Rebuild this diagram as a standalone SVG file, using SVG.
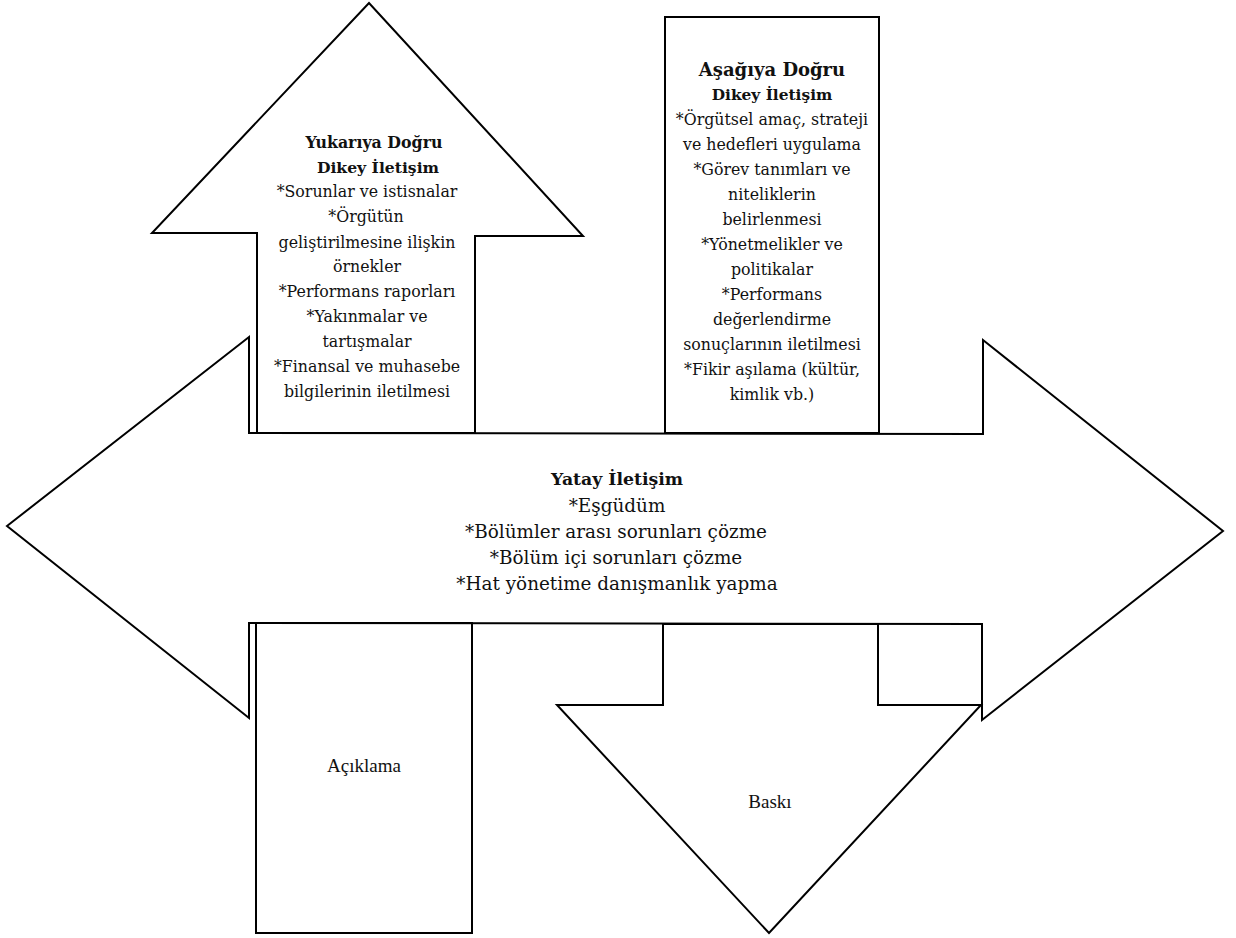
<svg xmlns="http://www.w3.org/2000/svg" width="1236" height="938" viewBox="0 0 1236 938">
<style>
.shape{fill:none;stroke:#000;stroke-width:2;stroke-linejoin:miter}
.t{font-family:"DejaVu Serif","Liberation Serif",serif;fill:#111;text-anchor:middle}
.b{font-weight:bold}
.s{font-family:"Liberation Serif","Times New Roman",serif;fill:#111;text-anchor:middle;font-size:19px}
</style>
<rect width="1236" height="938" fill="#fff"/>
<g id="yatay">
<polygon class="shape" points="7,526 249,337 249,433 983,434 983,340 1223,531 982,720 982,624 249,623 249,718"/>
<text class="t b" x="617" y="485" font-size="17.3">Yatay İletişim</text>
<text class="t" x="617" y="512" font-size="18.4">*Eşgüdüm</text>
<text class="t" x="616" y="538" font-size="18.4">*Bölümler arası sorunları çözme</text>
<text class="t" x="616" y="564" font-size="18.4">*Bölüm içi sorunları çözme</text>
<text class="t" x="617" y="590" font-size="18.4">*Hat yönetime danışmanlık yapma</text>
</g>
<g id="yukari">
<polygon class="shape" points="257,433 257,233 152,233 369,3 583,236 475,236 475,433"/>
<text class="t b" x="374" y="148" font-size="15.8">Yukarıya Doğru</text>
<text class="t b" x="378" y="173" font-size="15.6">Dikey İletişim</text>
<text class="t" x="367" y="197" font-size="15.8">*Sorunlar ve istisnalar</text>
<text class="t" x="366" y="222" font-size="15.8">*Örgütün</text>
<text class="t" x="367" y="248" font-size="15.8">geliştirilmesine ilişkin</text>
<text class="t" x="367" y="272" font-size="15.8">örnekler</text>
<text class="t" x="367" y="297" font-size="15.8">*Performans raporları</text>
<text class="t" x="367" y="322" font-size="15.8">*Yakınmalar ve</text>
<text class="t" x="367" y="347" font-size="15.8">tartışmalar</text>
<text class="t" x="367" y="372" font-size="15.8">*Finansal ve muhasebe</text>
<text class="t" x="367" y="397" font-size="15.8">bilgilerinin iletilmesi</text>
</g>
<g id="asagi">
<rect class="shape" x="665" y="17" width="214" height="416"/>
<text class="t b" x="772" y="76" font-size="18">Aşağıya Doğru</text>
<text class="t b" x="772" y="100" font-size="15.4">Dikey İletişim</text>
<text class="t" x="772" y="125" font-size="15.8">*Örgütsel amaç, strateji</text>
<text class="t" x="772" y="150" font-size="15.8">ve hedefleri uygulama</text>
<text class="t" x="772" y="175" font-size="15.8">*Görev tanımları ve</text>
<text class="t" x="772" y="200" font-size="15.8">niteliklerin</text>
<text class="t" x="772" y="225" font-size="15.8">belirlenmesi</text>
<text class="t" x="772" y="250" font-size="15.8">*Yönetmelikler ve</text>
<text class="t" x="772" y="275" font-size="15.8">politikalar</text>
<text class="t" x="772" y="300" font-size="15.8">*Performans</text>
<text class="t" x="772" y="325" font-size="15.8">değerlendirme</text>
<text class="t" x="772" y="350" font-size="15.8">sonuçlarının iletilmesi</text>
<text class="t" x="772" y="375" font-size="15.8">*Fikir aşılama (kültür,</text>
<text class="t" x="772" y="400" font-size="15.8">kimlik vb.)</text>
</g>
<g id="aciklama">
<rect class="shape" x="256" y="623" width="216" height="310"/>
<text class="s" x="364" y="772">Açıklama</text>
</g>
<g id="baski">
<polygon class="shape" points="663,624 878,624 878,705 981,705 769,933 557,705 663,705"/>
<text class="s" x="770" y="808">Baskı</text>
</g>
</svg>
